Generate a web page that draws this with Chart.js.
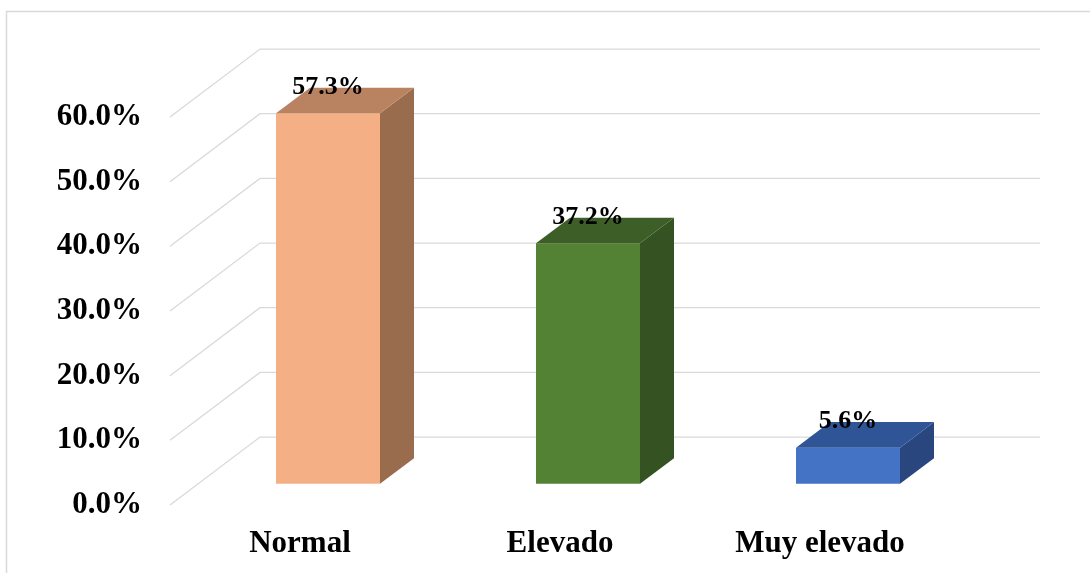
<!DOCTYPE html>
<html lang="es">
<head>
    <meta charset="UTF-8">
    <title>Niveles</title>
    <script src="https://cdn.jsdelivr.net/npm/chart.js"></script>
    <style>
        body {
            margin: 0;
            background: #ffffff;
        }
        canvas {
            display: block;
        }
    </style>
</head>
<body>
    <canvas id="barChart" width="1090" height="573"></canvas>

    <script>
        const categories = ['Normal', 'Elevado', 'Muy elevado'];
        const percentages = [57.3, 37.2, 5.6];
        const tickValues = [0, 10, 20, 30, 40, 50, 60];

        const frontColors = ['#F4B084', '#548235', '#4472C4'];
        const topColors = ['#B98261', '#3D5F27', '#2F5597'];
        const sideColors = ['#9A6C4E', '#345222', '#29467F'];

        const serif = '"Liberation Serif", "Times New Roman", serif';

        // oblique depth: wall sits 90px back, bars start 28px back and are 34px thick
        const slope = -0.755;
        const wallDepth = 90;
        const barShift = 28;
        const barDepth = 34;

        const frame = {
            id: 'frame',
            beforeDraw(chart) {
                const ctx = chart.ctx;
                ctx.save();
                ctx.strokeStyle = '#D9D9D9';
                ctx.lineWidth = 1.5;
                ctx.strokeRect(6.5, 11.5, 1200, 700);
                ctx.restore();
            }
        };

        const depth3d = {
            id: 'depth3d',
            beforeDatasetsDraw(chart) {
                const ctx = chart.ctx;
                const area = chart.chartArea;
                const y = chart.scales.y;
                const wdx = wallDepth, wdy = wallDepth * slope;

                // side wall diagonals and back wall lines
                ctx.save();
                ctx.strokeStyle = '#D9D9D9';
                ctx.lineWidth = 1.3;
                tickValues.forEach(v => {
                    const py = y.getPixelForValue(v);
                    ctx.beginPath();
                    ctx.moveTo(area.left, py);
                    ctx.lineTo(area.left + wdx, py + wdy);
                    ctx.lineTo(area.right + wdx, py + wdy);
                    ctx.stroke();
                });
                ctx.restore();

                // bars sit part way into the floor
                ctx.save();
                ctx.translate(barShift, barShift * slope);
            },
            afterDatasetsDraw(chart) {
                const ctx = chart.ctx;
                const bdx = barDepth, bdy = barDepth * slope;
                const meta = chart.getDatasetMeta(0);

                meta.data.forEach((bar, i) => {
                    const left = bar.x - bar.width / 2;
                    const right = bar.x + bar.width / 2;
                    const top = bar.y;
                    const bottom = bar.base;

                    ctx.fillStyle = sideColors[i];
                    ctx.beginPath();
                    ctx.moveTo(right, top);
                    ctx.lineTo(right + bdx, top + bdy);
                    ctx.lineTo(right + bdx, bottom + bdy);
                    ctx.lineTo(right, bottom);
                    ctx.closePath();
                    ctx.fill();

                    ctx.fillStyle = topColors[i];
                    ctx.beginPath();
                    ctx.moveTo(left, top);
                    ctx.lineTo(left + bdx, top + bdy);
                    ctx.lineTo(right + bdx, top + bdy);
                    ctx.lineTo(right, top);
                    ctx.closePath();
                    ctx.fill();
                });

                ctx.fillStyle = '#000000';
                ctx.font = 'bold 26px ' + serif;
                ctx.textAlign = 'center';
                ctx.textBaseline = 'middle';
                meta.data.forEach((bar, i) => {
                    ctx.fillText(percentages[i].toFixed(1) + '%', bar.x, bar.y - 26);
                });

                ctx.restore();
            }
        };

        new Chart(document.getElementById('barChart'), {
            type: 'bar',
            data: {
                labels: categories,
                datasets: [{
                    data: percentages,
                    backgroundColor: frontColors,
                    borderWidth: 0,
                    barPercentage: 1,
                    categoryPercentage: 0.4,
                    clip: false
                }]
            },
            options: {
                responsive: false,
                animation: false,
                events: [],
                layout: {
                    padding: { left: 56, right: 140, top: 117, bottom: 0 }
                },
                plugins: {
                    legend: { display: false },
                    tooltip: { enabled: false }
                },
                scales: {
                    x: {
                        grid: { display: false, drawTicks: false },
                        border: { display: false },
                        ticks: {
                            color: '#000000',
                            padding: 20,
                            maxRotation: 0,
                            font: { family: serif, size: 31, weight: 'bold' }
                        },
                        afterFit(axis) { axis.height = 68; }
                    },
                    y: {
                        min: 0,
                        max: 60,
                        grid: { display: false, drawTicks: false },
                        border: { display: false },
                        afterBuildTicks(axis) {
                            axis.ticks = tickValues.map(v => ({ value: v }));
                        },
                        ticks: {
                            color: '#000000',
                            padding: 28,
                            font: { family: serif, size: 31, weight: 'bold' },
                            callback: v => v.toFixed(1) + '%'
                        },
                        afterFit(axis) { axis.width = 114; }
                    }
                }
            },
            plugins: [frame, depth3d]
        });
    </script>
</body>
</html>
